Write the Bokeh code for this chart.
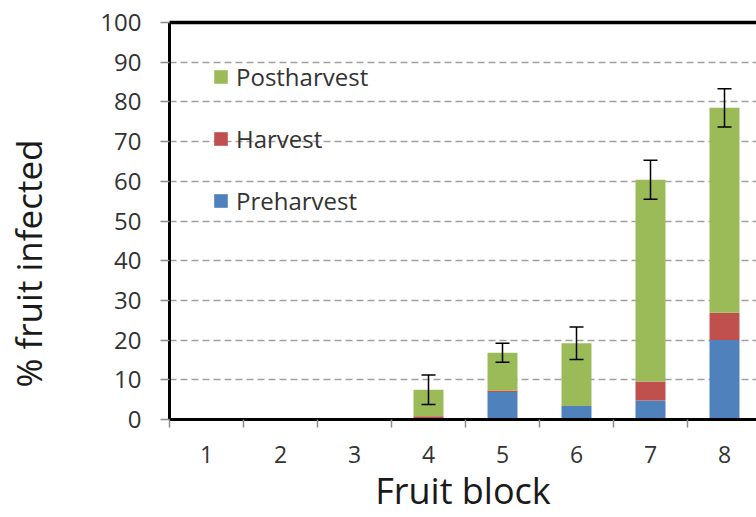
from bokeh.plotting import figure
from bokeh.models import (ColumnDataSource, FixedTicker, LinearAxis, Legend, LegendItem,
                          Whisker, TeeHead, Range1d, Grid, Title)
from bokeh.embed import file_html
from bokeh.resources import INLINE

# ---- data ----
blocks = [1, 2, 3, 4, 5, 6, 7, 8]
block_labels = ["1", "2", "3", "4", "5", "6", "7", "8"]
preharvest = [0, 0, 0, 0.4, 6.9, 3.4, 4.8, 20.0]
harvest = [0, 0, 0, 0.4, 0.4, 0.0, 4.8, 6.9]
postharvest = [0, 0, 0, 6.7, 9.5, 15.8, 50.8, 51.6]
error = [0, 0, 0, 3.7, 2.4, 4.1, 4.9, 4.8]
y_ticks = [0, 10, 20, 30, 40, 50, 60, 70, 80, 90, 100]

series = ["preharvest", "harvest", "postharvest"]
series_names = ["Preharvest", "Harvest", "Postharvest"]
colors = ["#4F81BD", "#C0504D", "#9BBB59"]

FONT = "Open Sans"
TXT = "#333333"

W, H = 756, 517
left_border, top_border, bottom_border = 169, 22, 98
px_per_block = 74
frame_w = W - left_border

source = ColumnDataSource(dict(x=blocks, preharvest=preharvest, harvest=harvest,
                               postharvest=postharvest))

p = figure(width=W, height=H, output_backend="svg", toolbar_location=None,
           x_range=Range1d(0.5, 0.5 + frame_w / px_per_block), y_range=Range1d(0, 100),
           min_border_left=left_border, min_border_right=0, min_border_top=top_border,
           min_border_bottom=bottom_border, x_axis_type=None, y_axis_type=None)
p.outline_line_color = None
p.background_fill_color = "white"
p.border_fill_color = "white"

# grid
grid = Grid(dimension=1, ticker=FixedTicker(ticks=y_ticks[1:-1]))
grid.grid_line_color = "#a0a0a0"
grid.grid_line_dash = "7 4"
grid.grid_line_width = 1.3
p.add_layout(grid)

renderers = p.vbar_stack(series, x="x", width=0.405, source=source, color=colors,
                         line_color=None)

# error bars
tot = [a + b + c for a, b, c in zip(preharvest, harvest, postharvest)]
ex = [b for b, e in zip(blocks, error) if e > 0]
eu = [t + e for t, e in zip(tot, error) if e > 0]
el = [t - e for t, e in zip(tot, error) if e > 0]
esrc = ColumnDataSource(dict(x=ex, upper=eu, lower=el))
wh = Whisker(base="x", upper="upper", lower="lower", source=esrc, level="annotation",
             line_color="black", line_width=1.5,
             upper_head=TeeHead(size=14, line_color="black", line_width=1.5),
             lower_head=TeeHead(size=14, line_color="black", line_width=1.5))
p.add_layout(wh)

# y axis
yaxis = LinearAxis(ticker=FixedTicker(ticks=y_ticks, minor_ticks=[]))
yaxis.axis_line_color = "black"
yaxis.axis_line_width = 3
yaxis.major_tick_line_color = "#8c8c8c"
yaxis.major_tick_line_width = 1.5
yaxis.major_tick_out = 9
yaxis.major_tick_in = 0
yaxis.minor_tick_line_color = None
yaxis.major_label_standoff = 19
yaxis.major_label_text_font = FONT
yaxis.major_label_text_font_size = "24px"
yaxis.major_label_text_color = TXT
p.add_layout(yaxis, "left")

# invisible spacer between tick labels and the axis title
spacer = LinearAxis(ticker=FixedTicker(ticks=[y_ticks[5]], minor_ticks=[]))
spacer.major_label_overrides = {y_ticks[5]: ""}
spacer.axis_line_color = None
spacer.major_tick_line_color = None
spacer.minor_tick_line_color = None
spacer.major_tick_out = 46
spacer.major_tick_in = 0
spacer.minor_tick_out = 0
spacer.major_label_standoff = 0
spacer.major_label_text_font_size = "0px"
p.add_layout(spacer, "left")

# y axis title, set low along the axis as in the original
ytitle = Title(text="% fruit infected", align="left", offset=32, standoff=0,
               vertical_align="bottom", text_font=FONT, text_font_size="35px",
               text_font_style="normal", text_color="#1a1a1a")
p.add_layout(ytitle, "left")

# x axis: labels at block centres, tick marks at block boundaries
bounds = [b + 0.5 for b in [0] + blocks]
xaxis = LinearAxis(ticker=FixedTicker(ticks=blocks, minor_ticks=bounds))
xaxis.major_label_overrides = {b: l for b, l in zip(blocks, block_labels)}
xaxis.axis_line_color = "black"
xaxis.axis_line_width = 3
xaxis.major_tick_line_color = None
xaxis.major_tick_out = 0
xaxis.major_tick_in = 0
xaxis.minor_tick_line_color = "#8c8c8c"
xaxis.minor_tick_line_width = 1.5
xaxis.minor_tick_out = 8
xaxis.minor_tick_in = 0
xaxis.major_label_standoff = 18
xaxis.major_label_text_font = FONT
xaxis.major_label_text_font_size = "23px"
xaxis.major_label_text_color = TXT
xaxis.axis_label = "Fruit block"
xaxis.axis_label_text_font = FONT
xaxis.axis_label_text_font_size = "36px"
xaxis.axis_label_text_font_style = "normal"
xaxis.axis_label_text_color = "#1a1a1a"
xaxis.axis_label_standoff = 0
p.add_layout(xaxis, "below")

# top border
top = LinearAxis(ticker=FixedTicker(ticks=[], minor_ticks=[]))
top.axis_line_color = "black"
top.axis_line_width = 3.5
top.major_tick_line_color = None
top.minor_tick_line_color = None
top.major_tick_out = 0
top.major_label_standoff = 0
top.major_label_text_font_size = "0px"
p.add_layout(top, "above")

# legend (top to bottom: Postharvest, Harvest, Preharvest)
items = [LegendItem(label=n, renderers=[r]) for n, r in zip(series_names, renderers)][::-1]
legend = Legend(items=items, location=(43, 202))
legend.margin = 0
legend.padding = 0
legend.spacing = 28
legend.glyph_width = 17
legend.glyph_height = 17
legend.label_height = 34
legend.label_standoff = 7
legend.label_text_font = FONT
legend.label_text_font_size = "24px"
legend.label_text_color = TXT
legend.background_fill_alpha = 0
legend.border_line_color = None
p.add_layout(legend, "center")

open("out.html", "w").write(file_html(p, INLINE))
